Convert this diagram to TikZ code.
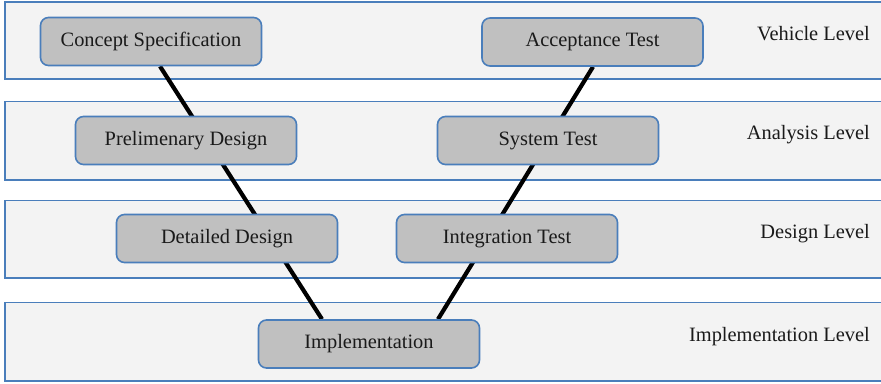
\documentclass[tikz,border=0pt]{standalone}
\usepackage{fontspec}
\setmainfont{Liberation Serif}
\pgfdeclarelayer{bands}
\pgfdeclarelayer{wires}
\pgfsetlayers{bands,wires,main}
\definecolor{edgeblue}{HTML}{4A7EBB}
\definecolor{bandfill}{HTML}{F3F3F3}
\definecolor{boxfill}{HTML}{C0C0C0}
\definecolor{ink}{HTML}{1A1A1A}
\tikzset{
  txt/.style={text=ink, font=\fontsize{20.4}{24}\selectfont},
  stage/.style={txt, draw=edgeblue, line width=1.6pt, fill=boxfill,
    rounded corners=8pt, minimum width=221pt, minimum height=48pt,
    inner sep=0pt, text height=14pt, text depth=4.5pt},
  band/.style={draw=edgeblue, line width=1.6pt, fill=bandfill},
  levellabel/.style={txt, anchor=base east, inner sep=0pt},
  link/.style={line width=4.2pt, black}
}
\begin{document}
\begin{tikzpicture}[x=1pt, y=-1pt]
  \useasboundingbox (0,0) rectangle (881,383);
  \clip (0,0) rectangle (881,383);

  % V-model stages
  \node[stage] (concept)  at (151,41.5)  {Concept Specification};
  \node[stage] (accept)   at (592.5,42)  {Acceptance Test};
  \node[stage] (prelim)   at (186,140.5) {Prelimenary Design};
  \node[stage] (system)   at (548,140.5) {System Test};
  \node[stage] (detailed) at (227,238.5) {Detailed Design};
  \node[stage] (integr)   at (507,238.5) {Integration Test};
  \node[stage] (impl)     at (369,344)   {Implementation};

  % level names at the right end of each band
  \node[levellabel] (lvlvehicle)  at (870,40)    {Vehicle Level};
  \node[levellabel] (lvlanalysis) at (870,139.5) {Analysis Level};
  \node[levellabel] (lvldesign)   at (870,238)   {Design Level};
  \node[levellabel] (lvlimpl)     at (870,341.5) {Implementation Level};

  % level bands
  \begin{pgfonlayer}{bands}
    \draw[band] (5,2)     rectangle (900,79);
    \draw[band] (5,101.5) rectangle (900,180);
    \draw[band] (5,200.5) rectangle (900,278);
    \draw[band] (5,302.5) rectangle (900,381);
  \end{pgfonlayer}

  % the two legs of the V, passing behind the stages
  \begin{pgfonlayer}{wires}
    \draw[link] ([xshift=9pt]concept.south) -- ([xshift=-47pt]impl.north);
    \draw[link] ([xshift=0.5pt]accept.south) -- ([xshift=69pt]impl.north);
  \end{pgfonlayer}
\end{tikzpicture}
\end{document}
